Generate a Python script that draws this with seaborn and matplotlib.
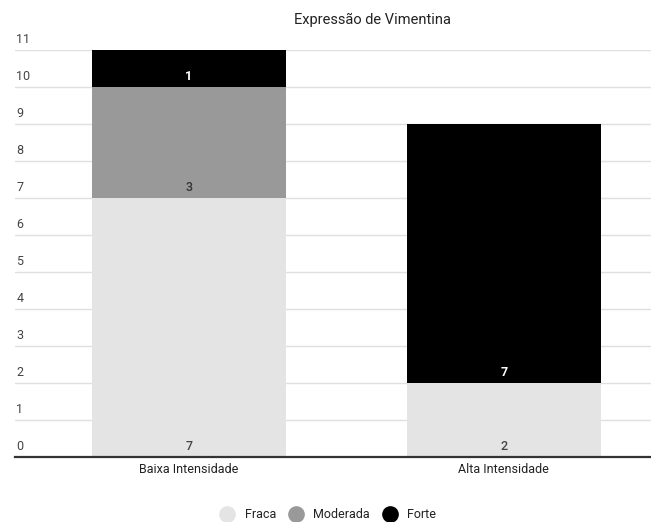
import matplotlib
matplotlib.use("Agg")
import matplotlib.pyplot as plt
from matplotlib.lines import Line2D
import matplotlib.transforms as mtransforms
import numpy as np
import pandas as pd
import seaborn as sns

title = "Expressão de Vimentina"
categories = ["Baixa Intensidade", "Alta Intensidade"]
series_names = ["Fraca", "Moderada", "Forte"]
fraca = [7, 2]
moderada = [3, 0]
forte = [1, 7]
series_colors = ["#e4e4e4", "#999999", "#000000"]
label_colors = ["#444444", "#333333", "#ffffff"]
y_ticks = list(range(0, 12))

sns.set_theme(style="white")
plt.rcParams["font.family"] = ["Roboto", "DejaVu Sans"]

fig = plt.figure(figsize=(6.51, 5.22), dpi=100)
ax = fig.add_axes([15 / 651, 1 - 457 / 522, 1 - 15 / 651, (457 - 50) / 522])

values = [fraca, moderada, forte]
bottoms = np.zeros(len(categories))
for name, vals, color, lcol in zip(series_names, values, series_colors, label_colors):
    df = pd.DataFrame({"cat": categories, "val": vals})
    sns.barplot(data=df, x="cat", y="val", color=color, bottom=bottoms,
                width=0.616, ax=ax, saturation=1, errorbar=None, zorder=2,
                linewidth=0, edgecolor=color)
    for i, v in enumerate(vals):
        if v > 0:
            ax.annotate(str(v), (i, bottoms[i]), xytext=(0, 3), textcoords="offset points",
                        ha="center", va="bottom", fontsize=9, color=lcol,
                        fontweight="bold" if lcol == "#ffffff" else "medium", zorder=5)
    bottoms = bottoms + np.array(vals)

ax.set_ylim(0, 11)
ax.set_xlim(-0.552, 1.467)
ax.set_yticks(y_ticks)
ax.set_yticklabels([])
ax.tick_params(axis="y", length=0)
ax.grid(axis="y", color="#e0e0e0", linewidth=1, zorder=0)
ax.set_axisbelow(True)
for s in ["top", "right", "left"]:
    ax.spines[s].set_visible(False)
ax.spines["bottom"].set_color("#333333")
ax.spines["bottom"].set_linewidth(1.6)
ax.spines["bottom"].set_zorder(6)

trans = mtransforms.blended_transform_factory(ax.transAxes, ax.transData)
for t in y_ticks:
    ax.annotate(str(t), (0, t), xycoords=trans, xytext=(1, 3), textcoords="offset points",
                ha="left", va="bottom", fontsize=9, color="#444444")

ax.set_xlabel("")
ax.set_ylabel("")
ax.tick_params(axis="x", length=0, pad=4, labelsize=9, labelcolor="#222222")

fig.text(372 / 651, 1 - 20 / 522, title, ha="center", va="center",
         fontsize=10.5, color="#222222")

handles = [Line2D([0], [0], marker="o", linestyle="", markersize=11,
                  markerfacecolor=c, markeredgecolor=c) for c in series_colors]
fig.legend(handles, series_names, loc="center", bbox_to_anchor=(0.5, 1 - 515 / 522),
           ncol=3, frameon=False, fontsize=9, handletextpad=0.4, columnspacing=0.6,
           labelcolor="#222222")

fig.savefig("out.png", dpi=100)
